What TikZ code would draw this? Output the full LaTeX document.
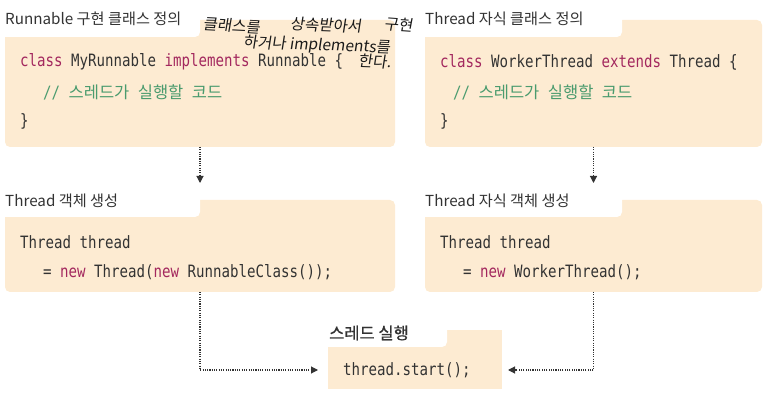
\documentclass[tikz,border=0pt]{standalone}
\usepackage{fontspec}
\usetikzlibrary{arrows.meta}
\newfontfamily\krfont{Noto Sans CJK KR}
\newfontfamily\krmed[FakeBold=0.7]{Noto Sans CJK KR}
\newfontfamily\codefont[FakeStretch=0.83]{DejaVu Sans Mono}
\newfontfamily\krcode{Noto Sans CJK KR}
\newfontfamily\handfont[FakeSlant=0.12]{Noto Sans CJK KR}
\definecolor{boxfill}{HTML}{FDEBD2}
\definecolor{txt}{HTML}{333333}
\definecolor{kwc}{HTML}{A3285E}
\definecolor{cmc}{HTML}{4A9B6E}
\newcommand{\kwd}[1]{{\color{kwc}#1}}
\newcommand{\krw}[1]{{\krcode\fontsize{16.5}{18}\selectfont #1}}
\newcommand{\cmtline}{{\color{cmc}// \krw{스레드가} \krw{실행할} \krw{코드}}}
\tikzset{
  body/.style={fill=boxfill, rounded corners=5pt, inner sep=0, outer sep=0, anchor=north west},
  tabbox/.style={fill=white, rounded corners=5pt, inner sep=0, outer sep=0, anchor=north west},
  lbl/.style={anchor=west, inner sep=0, text=txt, font=\krfont\fontsize{15.2}{17}\selectfont},
  code/.style={anchor=west, inner sep=0, text=txt, font=\codefont\fontsize{17}{18}\selectfont},
  hand/.style={anchor=west, inner sep=0, text=black!90, font=\handfont\fontsize{15.5}{17}\selectfont},
  conn/.style={draw=black!80, line width=1.1pt, dash pattern=on 1.1pt off 1.2pt,
    -{Triangle[length=7pt,width=7pt]}}
}
\begin{document}
\begin{tikzpicture}[x=1pt,y=-1pt]
\useasboundingbox (0,0) rectangle (777,403);
% box 1
\node[body, minimum width=390pt, minimum height=127pt] (b1) at (5,20) {};
\node[tabbox, minimum width=205pt, minimum height=37pt] (t1) at (-5,0) {};
\node[lbl] (l1) at (5,19) {Runnable 구현 클래스 정의};
\node[code] (c1a) at (20,62) {\kwd{class} MyRunnable \kwd{implements} Runnable \{};
\node[code] (c1b) at (43,92) {\cmtline};
\node[code] (c1c) at (20,121) {\}};
% box 2
\node[body, minimum width=337pt, minimum height=127pt] (b2) at (425,20) {};
\node[tabbox, minimum width=207pt, minimum height=37pt] (t2) at (415,0) {};
\node[lbl] (l2) at (425,19) {Thread 자식 클래스 정의};
\node[code] (c2a) at (440,62) {\kwd{class} WorkerThread \kwd{extends} Thread \{};
\node[code] (c2b) at (453,92) {\cmtline};
\node[code] (c2c) at (440,121) {\}};
% box 3
\node[body, minimum width=390pt, minimum height=92pt] (b3) at (5,200) {};
\node[tabbox, minimum width=205pt, minimum height=34pt] (t3) at (-5,183) {};
\node[lbl] (l3) at (5,201) {Thread 객체 생성};
\node[code] (c3a) at (20,242) {Thread thread};
\node[code] (c3b) at (43,272) {= \kwd{new} Thread(\kwd{new} RunnableClass());};
% box 4
\node[body, minimum width=337pt, minimum height=92pt] (b4) at (425,200) {};
\node[tabbox, minimum width=207pt, minimum height=34pt] (t4) at (415,183) {};
\node[lbl] (l4) at (425,201) {Thread 자식 객체 생성};
\node[code] (c4a) at (440,242) {Thread thread};
\node[code] (c4b) at (463,272) {= \kwd{new} WorkerThread();};
% box 5
\node[body, minimum width=174pt, minimum height=59pt, rounded corners=0pt] (b5) at (328,330) {};
\node[tabbox, minimum width=129pt, minimum height=37pt] (t5) at (318,310) {};
\node[lbl, font=\krmed\fontsize{16.5}{18}\selectfont] (l5) at (329,333) {스레드 실행};
\node[code] (c5) at (343,370) {thread.start();};
% handwriting
\node[hand, rotate=-3] (h1) at (203,24) {클래스를};
\node[hand, rotate=-2] (h2) at (290,24) {상속받아서};
\node[hand, rotate=-4] (h3) at (384,24) {구현};
\node[hand, rotate=-2] (h4) at (243,43) {하거나 implements를};
\node[hand, rotate=-2] (h5) at (358,61) {한다.};
% connectors
\draw[conn] (b1.south) -- (b1.south |- t3.north);
\draw[conn] (b2.south) -- (b2.south |- t4.north);
\draw[conn] (b3.south) |- ([xshift=-25pt]c5.west);
\draw[conn] (b4.south) |- ([xshift=6pt]b5.east |- c5.west);
\end{tikzpicture}
\end{document}
